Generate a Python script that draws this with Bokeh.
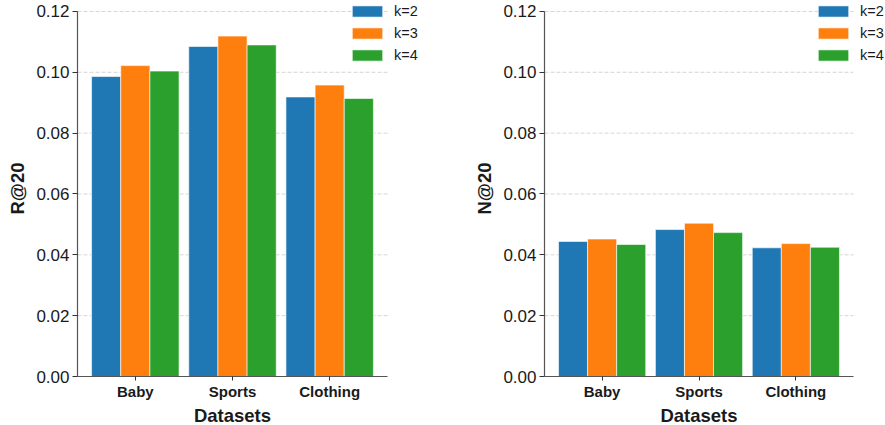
from bokeh.plotting import figure
from bokeh.layouts import row
from bokeh.models import (ColumnDataSource, Range1d, FixedTicker, Legend,
                          LegendItem, NumeralTickFormatter, Title)
from bokeh.embed import file_html
from bokeh.resources import INLINE

# ---- data ----
datasets = ["Baby", "Sports", "Clothing"]
series_names = ["k=2", "k=3", "k=4"]
colors = ["#1f77b4", "#ff7f0e", "#2ca02c"]

recall_k2 = [0.0986, 0.1085, 0.0919]
recall_k3 = [0.1022, 0.1119, 0.0958]
recall_k4 = [0.1004, 0.1090, 0.0914]

ndcg_k2 = [0.0444, 0.0483, 0.0423]
ndcg_k3 = [0.0452, 0.0504, 0.0437]
ndcg_k4 = [0.0434, 0.0473, 0.0425]

y_ticks = [0.0, 0.02, 0.04, 0.06, 0.08, 0.10, 0.12]
Y_MAX = 0.12
X_TITLE = "Datasets"

FONT = "Liberation Sans"
TEXT = "#1a1a1a"
BAR_W = 0.3
HEIGHT = 425
AX_TOP = 11        # pixel row of the top of the axes box
AX_BOTTOM = 48     # space under the axes box
LABEL_PX = 18.5    # axis title font size
# approximate advance width of the x title in bold Liberation Sans (em units)
X_TITLE_EM = 4.168


def panel(values, ylabel, width, left, axes_w, legend_x):
    n = len(series_names)
    group = BAR_W * n
    span = len(datasets) - 1 + group
    x_lo = -group / 2 - 0.05 * span
    x_hi = len(datasets) - 1 + group / 2 + 0.05 * span

    # the frame reaches the top and right edge so the legend is not clipped;
    # axis lines and grid lines are bounded to the axes box
    frame_w = width - left
    frame_h = HEIGHT - AX_BOTTOM
    axes_h = frame_h - AX_TOP
    x_end = x_lo + (x_hi - x_lo) * frame_w / axes_w
    y_end = Y_MAX * frame_h / axes_h

    p = figure(width=width, height=HEIGHT, output_backend="svg",
               toolbar_location=None,
               x_range=Range1d(x_lo, x_end), y_range=Range1d(0, y_end),
               min_border_left=left, min_border_right=0,
               min_border_top=0, min_border_bottom=AX_BOTTOM)
    p.outline_line_color = None
    p.background_fill_color = "white"
    p.border_fill_color = "white"
    p.xgrid.grid_line_color = None
    p.ygrid.grid_line_color = None

    # dashed horizontal grid lines across the axes box
    gy = [t for t in y_ticks if t > 0]
    p.segment(x0=[x_lo] * len(gy), x1=[x_hi] * len(gy), y0=gy, y1=gy,
              line_color="#cccccc", line_width=0.8, line_dash="4 2",
              level="underlay")

    items = []
    for i, (name, vals, col) in enumerate(zip(series_names, values, colors)):
        xs = [j + (i - (n - 1) / 2) * BAR_W for j in range(len(datasets))]
        src = ColumnDataSource(dict(x=xs, top=vals))
        r = p.vbar(x="x", top="top", width=BAR_W, bottom=0, source=src,
                   fill_color=col, line_color="white", line_width=0.6)
        items.append(LegendItem(label=name, renderers=[r]))

    # axes
    p.xaxis.ticker = FixedTicker(ticks=list(range(len(datasets))))
    p.xaxis.major_label_overrides = {i: d for i, d in enumerate(datasets)}
    p.xaxis.bounds = (x_lo, x_hi)
    p.yaxis.axis_label = ylabel
    p.yaxis.ticker = FixedTicker(ticks=y_ticks)
    p.yaxis.formatter = NumeralTickFormatter(format="0.00")
    p.yaxis.bounds = (0, Y_MAX)
    for ax in (p.xaxis[0], p.yaxis[0]):
        ax.axis_line_color = "#555555"
        ax.axis_line_width = 1.2
        ax.major_tick_line_color = "#333333"
        ax.major_tick_out = 5
        ax.major_tick_in = 0
        ax.minor_tick_line_color = None
        ax.axis_label_text_font = FONT
        ax.axis_label_text_font_style = "bold"
        ax.axis_label_text_font_size = f"{LABEL_PX}px"
        ax.axis_label_text_color = TEXT
        ax.major_label_text_font = FONT
        ax.major_label_text_color = TEXT
    p.xaxis.major_tick_out = 4
    p.xaxis.major_label_text_font_style = "bold"
    p.xaxis.major_label_text_font_size = "15px"
    p.xaxis.major_label_standoff = 2
    p.yaxis.major_label_text_font_size = "17px"
    p.yaxis.major_label_standoff = 3
    p.yaxis.axis_label_standoff = 5

    # x title centred under the axes box (not the wider frame)
    half_title = X_TITLE_EM * LABEL_PX / 2
    title = Title(text=X_TITLE, align="left",
                  offset=axes_w / 2 - half_title, standoff=0,
                  text_font=FONT, text_font_style="bold",
                  text_font_size=f"{LABEL_PX}px", text_color=TEXT)
    p.add_layout(title, "below")

    legend = Legend(items=items, location=(legend_x, 313),
                    orientation="vertical",
                    glyph_width=38, glyph_height=14, label_height=14,
                    spacing=6, padding=0, margin=0, label_standoff=8,
                    label_text_font=FONT, label_text_font_size="14.5px",
                    label_text_color=TEXT,
                    border_line_color=None, background_fill_alpha=0)
    p.add_layout(legend, "center")
    return p


p1 = panel([recall_k2, recall_k3, recall_k4], "R@20", 440, 77, 310, 271)
p2 = panel([ndcg_k2, ndcg_k3, ndcg_k4], "N@20", 445, 104, 309, 270)

layout = row(p1, p2)
open("out.html", "w").write(file_html(layout, INLINE))
